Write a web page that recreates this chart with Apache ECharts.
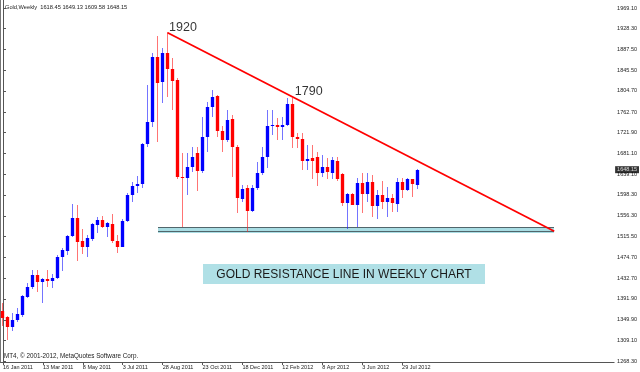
<!DOCTYPE html>
<html><head><meta charset="utf-8">
<script src="https://cdn.jsdelivr.net/npm/echarts@6/dist/echarts.min.js"></script>
<style>html,body{margin:0;padding:0;background:#fff}#c{width:640px;height:372px}</style>
</head><body><div id="c"></div>
<script>
// ---- data ----
const startDate = '2011-01-16';          // first weekly bar
const weekSlots = 123;                   // weekly slots on the time axis (incl. empty future)
const dateLabels = ['16 Jan 2011','13 Mar 2011','8 May 2011','3 Jul 2011','28 Aug 2011','23 Oct 2011','18 Dec 2011','12 Feb 2012','8 Apr 2012','3 Jun 2012','29 Jul 2012'];
const opens  = [1368,1356,1335,1350,1360,1396,1416,1439,1426,1432,1428,1434,1475,1487,1516,1553,1506,1494,1511,1538,1548,1534,1540,1507,1495,1546,1598,1616,1619,1700,1743,1872,1822,1880,1849,1826,1634,1631,1654,1682,1646,1714,1772,1794,1724,1707,1748,1694,1589,1611,1567,1611,1641,1674,1735,1737,1733,1737,1778,1714,1710,1666,1671,1673,1642,1653,1642,1666,1640,1583,1600,1578,1621,1600,1624,1576,1598,1585,1591,1581,1624,1608,1629,1618.45];
const highs  = [1383,1357,1363,1373,1399,1423,1449,1449,1433,1450,1442,1479,1492,1518,1580,1578,1530,1518,1542,1554,1557,1544,1561,1518,1550,1601,1624,1636,1702,1816,1880,1914,1889,1921,1869,1830,1681,1681,1694,1694,1753,1783,1806,1796,1734,1767,1757,1697,1618,1618,1618,1664,1694,1767,1767,1750,1753,1790,1790,1720,1720,1697,1697,1684,1677,1671,1673,1673,1642,1601,1601,1631,1641,1641,1638,1608,1626,1614,1600,1631,1631,1631,1629,1649.13];
const lows   = [1337,1311,1327,1346,1356,1393,1412,1406,1383,1416,1413,1432,1448,1479,1515,1466,1481,1474,1507,1522,1532,1514,1502,1482,1495,1544,1585,1602,1612,1694,1733,1704,1780,1793,1767,1630,1534,1598,1644,1605,1641,1684,1753,1714,1684,1704,1634,1563,1585,1525,1565,1607,1638,1651,1717,1707,1707,1734,1691,1691,1648,1648,1629,1616,1634,1629,1629,1626,1576,1530,1578,1535,1562,1585,1555,1550,1571,1555,1565,1565,1591,1605,1593,1609.58];
const closes = [1353,1335,1350,1362,1397,1416,1440,1426,1432,1428,1434,1475,1489,1516,1552,1505,1494,1512,1540,1548,1534,1542,1507,1495,1547,1598,1616,1619,1700,1743,1872,1821,1880,1848,1825,1633,1631,1654,1674,1646,1714,1773,1793,1724,1707,1747,1694,1591,1609,1567,1611,1641,1674,1735,1737,1732,1736,1778,1714,1710,1666,1669,1666,1642,1653,1644,1667,1629,1583,1600,1578,1621,1600,1624,1576,1598,1585,1591,1583,1624,1608,1629,1620,1648.15];
const priceTicks = [1268.30,1309.10,1349.90,1391.90,1432.70,1474.70,1515.50,1556.30,1598.30,1639.10,1681.10,1721.90,1762.70,1804.70,1845.50,1887.50,1928.30,1969.10];
const lastPrice = 1648.15;
const trendLine = [[33, 1920], [110.5, 1526]];          // [week index, price]
const supportZone = [[31, 110.5, 1522, 1534.5]];        // [from week, to week, low price, high price]
const peakNotes = [['1920', 33.3, 1931], ['1790', 58.5, 1803]];
const symbolInfo = 'Gold,Weekly  1618.45 1649.13 1609.58 1648.15';
const copyright = 'MT4, \u00A9 2001-2012, MetaQuotes Software Corp.';
const caption = 'GOLD RESISTANCE LINE IN WEEKLY CHART';

// ---- build ----
const MONTHS = ['Jan','Feb','Mar','Apr','May','Jun','Jul','Aug','Sep','Oct','Nov','Dec'];
const t0 = Date.parse(startDate + 'T00:00:00Z');
const categories = [];
for (let i = 0; i < weekSlots; i++) {
  const d = new Date(t0 + i * 7 * 86400000);
  categories.push(d.getUTCDate() + ' ' + MONTHS[d.getUTCMonth()] + ' ' + d.getUTCFullYear());
}
const candles = opens.map((o, i) => [i, o, closes[i], lows[i], highs[i]]);
const FONT = 'Liberation Sans';
const showDate = (idx, val) => dateLabels.indexOf(val) >= 0;

function renderCandle(params, api) {
  const i = api.value(0), o = api.value(1), c = api.value(2), l = api.value(3), h = api.value(4);
  const pO = api.coord([i, o]), pC = api.coord([i, c]), pL = api.coord([i, l]), pH = api.coord([i, h]);
  const x = Math.round(pO[0] - 0.5) + 0.5;
  const up = c >= o;
  const top = Math.round(Math.min(pO[1], pC[1])), bot = Math.round(Math.max(pO[1], pC[1]));
  return { type: 'group', children: [
    { type: 'line', shape: { x1: x, y1: Math.round(pH[1]), x2: x, y2: Math.round(pL[1]) },
      style: { stroke: up ? 'rgba(30,30,255,0.62)' : 'rgba(255,30,30,0.62)', lineWidth: 1 } },
    { type: 'rect', shape: { x: x - 2, y: top, width: 4, height: Math.max(1, bot - top) },
      style: { fill: up ? 'rgba(0,0,255,0.35)' : 'rgba(255,0,0,0.35)' } },
    { type: 'rect', shape: { x: x - 1.5, y: top, width: 3, height: Math.max(1, bot - top) },
      style: { fill: up ? '#0000ff' : '#ff0000' } }
  ]};
}
function renderZone(params, api) {
  const a = api.coord([api.value(0), api.value(3)]);
  const b = api.coord([api.value(1), api.value(2)]);
  const x0 = Math.round(a[0]), x1 = Math.round(b[0]);
  const y0 = Math.round(a[1]), y1 = Math.round(b[1]);
  const ym = Math.round((y0 + y1) / 2) + 1;
  return { type: 'group', children: [
    { type: 'rect', shape: { x: x0, y: y0, width: x1 - x0, height: y1 - y0 }, style: { fill: '#a9dde4' } },
    { type: 'line', shape: { x1: x0, y1: y0 + 0.5, x2: x1, y2: y0 + 0.5 }, style: { stroke: '#51666b', lineWidth: 1 } },
    { type: 'line', shape: { x1: x0, y1: ym + 0.5, x2: x1, y2: ym + 0.5 }, style: { stroke: '#51666b', lineWidth: 1 } }
  ]};
}

const chart = echarts.init(document.getElementById('c'), null, { renderer: 'canvas' });
chart.setOption({
  animation: false,
  backgroundColor: '#ffffff',
  grid: { left: 0, right: 25, top: 0, bottom: 10, containLabel: false },
  xAxis: [
    { type: 'category', data: categories, boundaryGap: true,
      axisLine: { show: true, lineStyle: { color: '#555', width: 1 } },
      axisTick: { show: true, interval: showDate, alignWithLabel: true, length: 3, lineStyle: { color: '#555' } },
      axisLabel: { interval: showDate, align: 'left', margin: 2, fontSize: 5.5, color: '#222', fontFamily: FONT },
      splitLine: { show: false } },
    { type: 'value', min: -0.5, max: weekSlots - 0.5, show: false }
  ],
  yAxis: [
    { type: 'value', position: 'right', min: 1266.4, max: 1985,
      axisLine: { show: true, lineStyle: { color: '#555', width: 1 } },
      axisTick: { show: true, length: 3, customValues: priceTicks, lineStyle: { color: '#555' } },
      axisLabel: { customValues: priceTicks, formatter: v => v.toFixed(2), margin: 3, fontSize: 5.5, color: '#222', fontFamily: FONT },
      splitLine: { show: false } },
    { type: 'value', position: 'left', min: 1266.4, max: 1985,
      axisLine: { show: true, lineStyle: { color: '#777', width: 1 } },
      axisTick: { show: false }, axisLabel: { show: false }, splitLine: { show: false } }
  ],
  series: [
    { type: 'custom', name: 'zone', xAxisIndex: 1, yAxisIndex: 0, data: supportZone, renderItem: renderZone,
      encode: { x: [0, 1], y: [2, 3] }, z: 1, silent: true },
    { type: 'custom', name: 'Gold', xAxisIndex: 0, yAxisIndex: 0, data: candles, renderItem: renderCandle,
      encode: { x: 0, y: [1, 2, 3, 4] }, z: 3 },
    { type: 'line', name: 'resistance', xAxisIndex: 1, yAxisIndex: 0, data: trendLine, symbol: 'none',
      lineStyle: { color: '#ff0000', width: 1.8 }, z: 4, silent: true },
    { type: 'scatter', name: 'notes', xAxisIndex: 1, yAxisIndex: 0, symbolSize: 0, z: 5, silent: true,
      data: peakNotes.map(n => ({ value: [n[1], n[2]], name: n[0] })),
      label: { show: true, formatter: p => p.name, position: [0, 0], align: 'left', verticalAlign: 'middle',
        fontSize: 12.5, fontFamily: FONT, color: '#000' } },
    { type: 'scatter', name: 'last', xAxisIndex: 1, yAxisIndex: 0, symbolSize: 0, z: 6, silent: true, clip: false,
      data: [[weekSlots - 0.5, lastPrice]],
      label: { show: true, formatter: () => lastPrice.toFixed(2), position: [1, 0], align: 'left', verticalAlign: 'middle',
        backgroundColor: '#000', color: '#fff', fontSize: 5.5, fontFamily: FONT, padding: [1, 2, 0, 2] } }
  ],
  graphic: [
    { type: 'text', left: 5, top: 4, z: 10, style: { text: symbolInfo, fontSize: 5.7, fontFamily: FONT, fill: '#222' } },
    { type: 'text', left: 4, top: 353, z: 10, style: { text: copyright, fontSize: 6.3, fontFamily: FONT, fill: '#222' } },
    { type: 'group', left: 203, top: 264, z: 10, children: [
      { type: 'rect', shape: { x: 0, y: 0, width: 282, height: 20 }, style: { fill: '#b0e0e6' } },
      { type: 'text', x: 141, y: 10.5, style: { text: caption, fontSize: 12, fontFamily: FONT, fill: '#1a1a1a', align: 'center', verticalAlign: 'middle' } }
    ] }
  ]
});
</script>
</body></html>
